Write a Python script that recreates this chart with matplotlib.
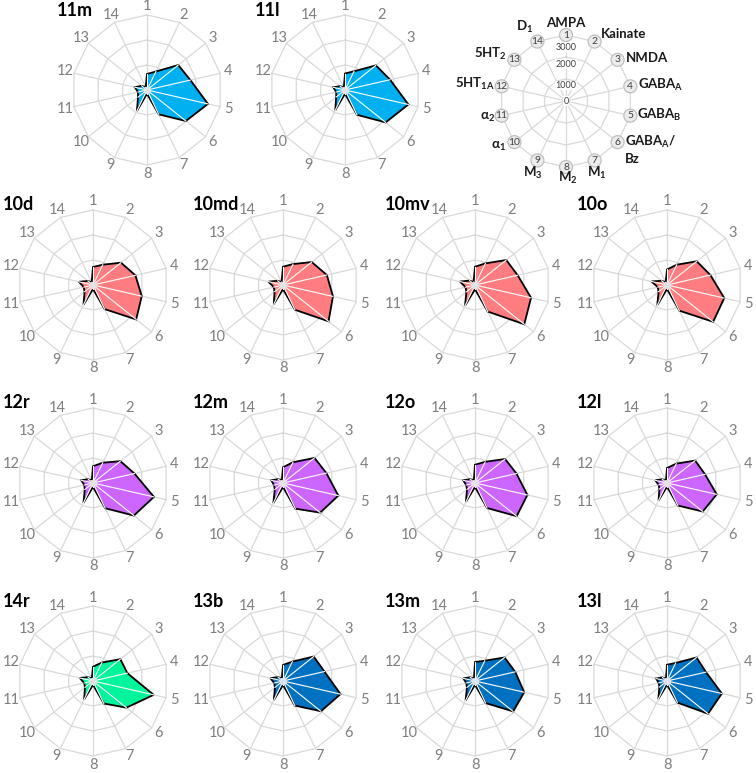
import numpy as np
import matplotlib
matplotlib.use('Agg')
import matplotlib.pyplot as plt
from matplotlib.patches import Circle, Polygon

plt.rcParams['font.family'] = ['Lato', 'DejaVu Sans']
plt.rcParams['mathtext.fontset'] = 'custom'
plt.rcParams['mathtext.rm'] = 'Lato'
plt.rcParams['mathtext.bf'] = 'Lato:bold'

# ---------------- data ----------------
axis_numbers = [str(i) for i in range(1, 15)]
receptors = ['AMPA', 'Kainate', 'NMDA', r'GABA$_\mathbf{A}$', r'GABA$_\mathbf{B}$',
             r'GABA$_\mathbf{A}$/', r'M$_\mathbf{1}$', r'M$_\mathbf{2}$', r'M$_\mathbf{3}$',
             r'α$_\mathbf{1}$', r'α$_\mathbf{2}$', r'5HT$_\mathbf{1A}$', r'5HT$_\mathbf{2}$',
             r'D$_\mathbf{1}$']
ring_values = [1000, 2000, 3000]
ring_labels = ['0', '1000', '2000', '3000']

areas = ['11m', '11l', '10d', '10md', '10mv', '10o',
         '12r', '12m', '12o', '12l', '14r', '13b', '13m', '13l']

v_11m = [640, 820, 1600, 1780, 2500, 1990, 1080, 150, 930, 460, 370, 500, 270, 120]
v_11l = [660, 830, 1580, 1850, 2600, 2080, 1100, 150, 900, 450, 360, 480, 250, 110]
v_10d = [720, 900, 1430, 1740, 2000, 2210, 1070, 160, 880, 430, 380, 580, 260, 120]
v_10md = [730, 930, 1470, 1800, 2050, 2330, 1100, 170, 850, 430, 380, 600, 270, 130]
v_10mv = [730, 960, 1600, 1750, 2300, 2520, 1180, 170, 920, 440, 390, 620, 280, 130]
v_10o = [620, 900, 1520, 1780, 2350, 2360, 1140, 160, 900, 430, 380, 640, 270, 120]
v_12r = [670, 900, 1400, 1700, 2500, 2090, 1120, 160, 880, 420, 360, 480, 250, 110]
v_12m = [630, 920, 1610, 1780, 2270, 1900, 1140, 160, 890, 420, 370, 480, 250, 110]
v_12o = [730, 940, 1540, 1700, 2150, 2130, 1110, 160, 840, 410, 360, 480, 250, 110]
v_12l = [600, 860, 1440, 1560, 2040, 1830, 1000, 150, 780, 390, 340, 480, 240, 100]
v_14r = [570, 820, 1400, 1410, 2490, 1710, 1000, 150, 820, 410, 360, 545, 250, 110]
v_13b = [640, 860, 1570, 1700, 2360, 1940, 1090, 160, 850, 410, 360, 520, 250, 110]
v_13m = [760, 900, 1510, 1650, 2020, 1950, 980, 150, 870, 410, 360, 480, 240, 100]
v_13l = [650, 800, 1510, 1600, 2250, 2100, 960, 150, 800, 390, 340, 450, 230, 100]

values = [v_11m, v_11l, v_10d, v_10md, v_10mv, v_10o, v_12r, v_12m, v_12o, v_12l,
          v_14r, v_13b, v_13m, v_13l]

c11, c10, c12, c14, c13 = '#00B0F0', '#FF7C80', '#CC66FF', '#00F59A', '#0070C0'
colors = [c11, c11, c10, c10, c10, c10, c12, c12, c12, c12, c14, c13, c13, c13]

# ---------------- layout (pixels) ----------------
W, H = 756, 773
fig = plt.figure(figsize=(W / 100, H / 100), dpi=100)

col_x = [93, 283, 475, 667]
row_y = [90, 285, 483, 681]
centers = [(147, row_y[0]), (345, row_y[0])]
for r in range(1, 4):
    for c in range(4):
        centers.append((col_x[c], row_y[r]))

n = 14
theta = np.arange(n) * 2 * np.pi / n
sx, sy = np.sin(theta), np.cos(theta)
GRID = '#d9d9d9'
RMAX = 3000


def make_ax(cx, cy, upp, w=190, h=196):
    ax = fig.add_axes([(cx - w / 2) / W, 1 - (cy + h / 2) / H, w / W, h / H])
    ax.set_xlim(-w / 2 * upp, w / 2 * upp)
    ax.set_ylim(-h / 2 * upp, h / 2 * upp)
    ax.axis('off')
    return ax


def draw_grid(ax):
    for rv in ring_values:
        xs = np.append(rv * sx, rv * sx[0])
        ys = np.append(rv * sy, rv * sy[0])
        ax.plot(xs, ys, color=GRID, lw=0.9, zorder=1, solid_joinstyle='miter')
    for k in range(n):
        ax.plot([0, RMAX * sx[k]], [0, RMAX * sy[k]], color=GRID, lw=0.9, zorder=1)


upp = RMAX / 75.0
for name, vals, col, (cx, cy) in zip(areas, values, colors, centers):
    ax = make_ax(cx, cy, upp)
    draw_grid(ax)
    v = np.array(vals, dtype=float)
    pts = np.column_stack([v * sx, v * sy])
    ax.add_patch(Polygon(pts, closed=True, facecolor=col, edgecolor='black',
                         lw=1.3, zorder=3, joinstyle='miter'))
    for k in range(n):
        ax.plot([0, v[k] * sx[k]], [0, v[k] * sy[k]], color='white', lw=0.8, zorder=4)
    ax.scatter([0], [0], s=28, color='#e3e3e3', zorder=5, lw=0)
    rl = 83.5 * upp
    for k in range(n):
        ax.text(rl * sx[k], rl * sy[k], axis_numbers[k], fontsize=10.5,
                color='#7f7f7f', ha='center', va='center')
    ax.text(-90 * upp, 80 * upp, name, fontsize=13, fontweight='bold',
            ha='left', va='center', color='black')

# ---------------- legend radar ----------------
lupp = RMAX / 66.0
lax = make_ax(566, 101, lupp, w=200, h=200)
draw_grid(lax)
for k in range(n):
    lax.add_patch(Circle((RMAX * sx[k], RMAX * sy[k]), 6.5 * lupp, facecolor='#ececec',
                         edgecolor='#bfbfbf', lw=0.9, zorder=3))
    lax.text(RMAX * sx[k], RMAX * sy[k], axis_numbers[k], fontsize=7.5, color='#404040',
             ha='center', va='center', zorder=4)
ring_pos = [0, 700, 1680, 2450]
for lab, rp in zip(ring_labels, ring_pos):
    lax.text(0, rp, lab, fontsize=6.5, color='#404040', ha='center', va='center',
             zorder=4, bbox=dict(facecolor='white', edgecolor='none', pad=0.2))

# label positions in px relative to legend centre (x right, y down) and alignment
lab_pos = [(0, -78, 'center'), (35, -67, 'left'), (60, -43, 'left'), (72, -16, 'left'),
           (71, 14, 'left'), (59, 41, 'left'), (31, 72, 'center'), (2, 77, 'center'),
           (-33, 72, 'center'), (-60, 45, 'right'), (-71, 16, 'right'),
           (-71, -17, 'right'), (-59, -47, 'right'), (-41, -74, 'center')]
for lab, (dx, dy, ha) in zip(receptors, lab_pos):
    lax.text(dx * lupp, -dy * lupp, lab, fontsize=9.5, fontweight='bold', ha=ha,
             va='center', color='#1a1a1a', zorder=5)
lax.text(59 * lupp, -58 * lupp, 'Bz', fontsize=9.5, fontweight='bold', ha='left',
         va='center', color='#1a1a1a', zorder=5)

fig.savefig('out.png', dpi=100)
